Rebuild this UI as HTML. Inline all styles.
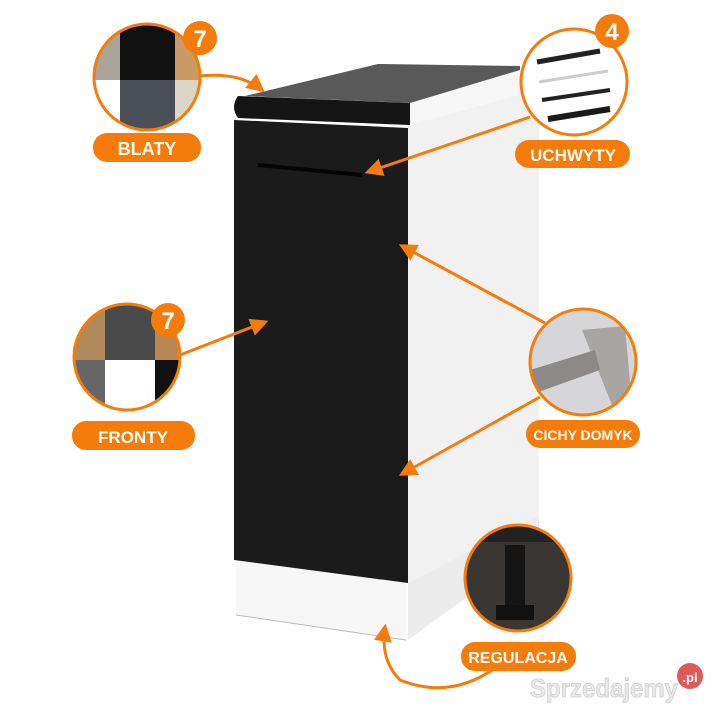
<!DOCTYPE html>
<html><head><meta charset="utf-8"><style>
html,body{margin:0;padding:0;background:#fff}
svg{display:block}
text{font-family:"Liberation Sans",sans-serif;font-weight:bold}
</style></head><body>
<svg width="720" height="720" viewBox="0 0 720 720">
<defs>
<marker id="ah" viewBox="0 0 10 10" refX="8" refY="5" markerWidth="6" markerHeight="6" orient="auto"><path d="M0,0 L10,5 L0,10 Z" fill="#f57c0a"/></marker>
<clipPath id="c1"><circle cx="147" cy="77" r="52"/></clipPath>
<clipPath id="c2"><circle cx="574" cy="82" r="52"/></clipPath>
<clipPath id="c3"><circle cx="127" cy="357" r="52"/></clipPath>
<clipPath id="c4"><circle cx="583" cy="362" r="52"/></clipPath>
<clipPath id="c5"><circle cx="518" cy="578" r="52"/></clipPath>
</defs>
<rect width="720" height="720" fill="#fff"/>
<!-- cabinet side -->
<polygon points="408,125 539,88 539,515 408,583" fill="#f1f1f1"/>
<polygon points="408,583 539,515 539,545 408,640" fill="#ececec"/>
<!-- plinth front -->
<polygon points="236,560 406,583 406,640 236,615" fill="#f6f6f6"/>
<line x1="236" y1="615" x2="406" y2="640" stroke="#bbb" stroke-width="1"/>
<!-- door -->
<polygon points="234,120 408,128 408,583 234,560" fill="#1b1b1b"/>
<line x1="258" y1="165" x2="362" y2="175" stroke="#050505" stroke-width="4"/>
<!-- countertop -->
<polygon points="245,96 378,64 520,66 520,90 410,103" fill="#595959"/>
<polygon points="410,103 520,70 520,95 410,125" fill="#f6f6f6"/>
<path d="M238,96 L410,103 L410,125 L238,118 Q230,107 238,96 Z" fill="#151515"/>
<!-- arrows -->
<g stroke="#f57c0a" stroke-width="3" fill="none" marker-end="url(#ah)">
<path d="M200,76 Q240,72 262,90"/>
<line x1="530" y1="117" x2="368" y2="172"/>
<line x1="545" y1="323" x2="402" y2="246"/>
<line x1="540" y1="397" x2="402" y2="474"/>
<line x1="180" y1="355" x2="265" y2="322"/>
<path d="M495,668 Q450,700 400,680 Q380,660 385,627"/>
</g>
<!-- BLATY -->
<g clip-path="url(#c1)">
<rect x="90" y="20" width="30" height="60" fill="#aaa59a"/>
<rect x="120" y="20" width="55" height="60" fill="#111"/>
<rect x="175" y="20" width="30" height="60" fill="#c99a62"/>
<rect x="90" y="80" width="30" height="60" fill="#fff"/>
<rect x="120" y="80" width="55" height="60" fill="#4a4f58"/>
<rect x="175" y="80" width="30" height="60" fill="#ddd6c8"/>
</g>
<circle cx="147" cy="77" r="53" fill="none" stroke="#f57c0a" stroke-width="3"/>
<circle cx="200" cy="38" r="17" fill="#f57c0a"/>
<text x="200" y="47" font-size="24" fill="#fff" text-anchor="middle">7</text>
<rect x="93" y="133" width="108" height="29" rx="14" fill="#f57c0a"/>
<text x="147" y="155" font-size="18" fill="#fff" text-anchor="middle">BLATY</text>
<!-- UCHWYTY -->
<circle cx="574" cy="82" r="53" fill="#fff" stroke="#f57c0a" stroke-width="3"/>
<g clip-path="url(#c2)">
<line x1="537" y1="62" x2="600" y2="51" stroke="#222" stroke-width="5"/>
<line x1="539" y1="82" x2="608" y2="71" stroke="#ccc" stroke-width="3"/>
<line x1="542" y1="100" x2="610" y2="90" stroke="#222" stroke-width="4"/>
<line x1="548" y1="119" x2="610" y2="109" stroke="#1a1a1a" stroke-width="6"/>
</g>
<circle cx="612" cy="31" r="17" fill="#f57c0a"/>
<text x="612" y="40" font-size="24" fill="#fff" text-anchor="middle">4</text>
<rect x="515" y="140" width="115" height="28" rx="14" fill="#f57c0a"/>
<text x="573" y="161" font-size="17" fill="#fff" text-anchor="middle">UCHWYTY</text>
<!-- FRONTY -->
<g clip-path="url(#c3)">
<rect x="70" y="300" width="35" height="60" fill="#b08a5a"/>
<rect x="105" y="300" width="50" height="60" fill="#4a4a4a"/>
<rect x="155" y="300" width="30" height="60" fill="#b98855"/>
<rect x="70" y="360" width="35" height="60" fill="#666"/>
<rect x="105" y="360" width="50" height="60" fill="#fff"/>
<rect x="155" y="360" width="30" height="60" fill="#111"/>
</g>
<circle cx="127" cy="357" r="53" fill="none" stroke="#f57c0a" stroke-width="3"/>
<circle cx="168" cy="320" r="17" fill="#f57c0a"/>
<text x="168" y="329" font-size="24" fill="#fff" text-anchor="middle">7</text>
<rect x="72" y="421" width="123" height="29" rx="14" fill="#f57c0a"/>
<text x="133" y="443" font-size="17" fill="#fff" text-anchor="middle">FRONTY</text>
<!-- CICHY DOMYK -->
<g clip-path="url(#c4)">
<rect x="530" y="308" width="110" height="110" fill="#d6d6d8"/>
<polygon points="582,330 625,326 632,405 612,405" fill="#a8a6a4"/>
<polygon points="530,370 595,350 600,370 530,395" fill="#8c8a88"/>
</g>
<circle cx="583" cy="362" r="53" fill="none" stroke="#f57c0a" stroke-width="3"/>
<rect x="526" y="420" width="114" height="28" rx="14" fill="#f57c0a"/>
<text x="583" y="440" font-size="14" fill="#fff" text-anchor="middle">CICHY DOMYK</text>
<!-- REGULACJA -->
<g clip-path="url(#c5)">
<rect x="460" y="520" width="120" height="120" fill="#3a3634"/>
<rect x="460" y="520" width="120" height="22" fill="#222"/>
<rect x="505" y="545" width="20" height="60" fill="#151515"/>
<rect x="496" y="605" width="38" height="15" fill="#111"/>
</g>
<circle cx="518" cy="578" r="53" fill="none" stroke="#f57c0a" stroke-width="3"/>
<rect x="461" y="642" width="115" height="29" rx="14" fill="#f57c0a"/>
<text x="518" y="663" font-size="16" fill="#fff" text-anchor="middle">REGULACJA</text>
<!-- watermark -->
<text x="530" y="697" font-size="26" fill="#e8e8e8" stroke="#cfcfcf" stroke-width="0.8" textLength="148" lengthAdjust="spacingAndGlyphs">Sprzedajemy</text>
<circle cx="690" cy="676" r="13" fill="#e05a5a"/>
<text x="690" y="682" font-size="13" fill="#fff" text-anchor="middle">.pl</text>
</svg>
</body></html>
